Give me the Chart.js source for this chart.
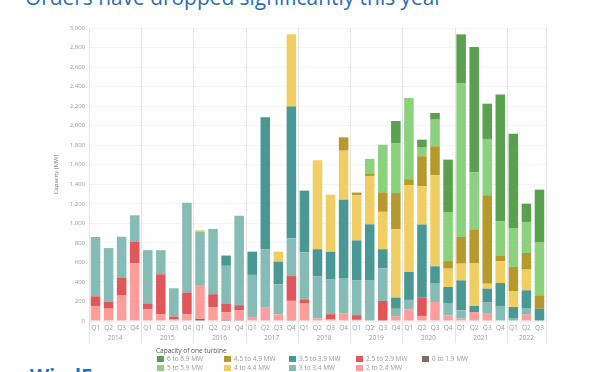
<!DOCTYPE html>
<html>
<head>
<meta charset="utf-8">
<script src="https://cdn.jsdelivr.net/npm/chart.js@4"></script>
<style>
html,body{margin:0;padding:0;background:#fff;}
body{width:600px;height:372px;overflow:hidden;position:relative;font-family:'Open Sans',sans-serif;}
#title{position:absolute;left:25px;top:-14px;font-size:22px;line-height:22px;color:#2a6db3;white-space:nowrap;font-family:'Open Sans',sans-serif;}
#logo{position:absolute;left:30px;top:366px;font-size:20px;line-height:20px;font-weight:700;color:#1f74c0;white-space:nowrap;font-family:'Open Sans',sans-serif;}
#chartBox{position:absolute;left:0;top:0;width:600px;height:372px;}
.lg-title{position:absolute;font-size:6.5px;color:#555;white-space:nowrap;line-height:8px;}
.lg-item{position:absolute;font-size:6.5px;color:#999;white-space:nowrap;line-height:8px;height:8px;}
.lg-sw{display:inline-block;width:7px;height:6px;vertical-align:top;margin-top:1px;margin-right:3px;}
</style>
</head>
<body>
<div id="title">Orders have dropped significantly this year</div>
<div id="chartBox"><canvas id="c" width="600" height="372"></canvas></div>
<div id="legend"></div>
<div id="logo">WindEurope</div>
<script>
// ---- data ----
const quarterLabels = ['Q1','Q2','Q3','Q4','Q1','Q2','Q3','Q4','Q1','Q2','Q3','Q4','Q1','Q2','Q3','Q4','Q1','Q2','Q3','Q4','Q1','Q2','Q3','Q4','Q1','Q2','Q3','Q4','Q1','Q2','Q3','Q4','Q1','Q2','Q3'];
const yearLabels = ['2014','2015','2016','2017','2018','2019','2020','2021','2022'];
const quartersPerYear = [4,4,4,4,4,4,4,4,3];
const yTicks = [0,200,400,600,800,1000,1200,1400,1600,1800,2000,2200,2400,2600,2800,3000];

const mw0to19  = [0,0,0,0, 0,0,0,0, 22,0,12,8, 0,0,0,8, 0,0,0,0, 0,0,0,0, 0,0,0,0, 0,0,0,0, 0,0,0];
const mw2to24  = [154,126,260,590, 120,70,15,68, 338,140,78,100, 40,136,68,198, 178,28,15,80, 12,0,0,50, 120,52,195,58, 24,92,82,0, 0,65,0];
const mw25to29 = [99,69,180,219, 60,408,30,224, 0,134,90,54, 0,0,0,254, 43,0,55,0, 48,0,205,0, 0,191,0,0, 0,0,0,0, 0,0,0];
const mw3to34  = [607,552,423,273, 545,247,290,920, 555,668,385,916, 432,599,307,386, 481,427,354,360, 359,420,335,75, 96,0,187,119, 85,0,106,154, 31,68,0];
const mw35to39 = [0,0,0,0, 0,0,0,0, 0,0,105,0, 238,1350,233,1349, 633,280,284,802, 406,570,195,115, 286,745,178,171, 307,62,143,235, 112,181,126];
const mw4to44  = [0,0,0,0, 0,0,0,0, 15,0,0,0, 0,0,102,740, 0,910,585,502, 463,495,383,701, 888,392,931,188, 171,440,51,222, 164,212,0];
const mw45to49 = [0,0,0,0, 0,0,0,0, 0,0,0,0, 0,0,0,0, 0,0,0,136, 27,27,200,369, 62,307,298,78, 273,345,905,61, 246,170,137];
const mw5to59  = [0,0,0,0, 0,0,0,0, 0,0,0,0, 0,0,0,0, 0,0,0,0, 0,148,487,512, 832,88,272,502, 1577,581,577,348, 399,318,546];
const mw6to69  = [0,0,0,0, 0,0,0,0, 0,0,0,0, 0,0,0,0, 0,0,0,0, 0,0,0,226, 0,82,69,536, 498,1286,361,1298, 966,187,536];

const seriesNames = ['0 to 1.9 MW','2 to 2.4 MW','2.5 to 2.9 MW','3 to 3.4 MW','3.5 to 3.9 MW','4 to 4.4 MW','4.5 to 4.9 MW','5 to 5.9 MW','6 to 6.9 MW'];
const seriesData = [mw0to19, mw2to24, mw25to29, mw3to34, mw35to39, mw4to44, mw45to49, mw5to59, mw6to69];
const seriesColors = ['#79706E','#FF9D9A','#E15759','#86BCB6','#499894','#F1CE63','#B6992D','#8CD17D','#59A14F'];

// fit title width
(function(){
  const t = document.getElementById('title');
  const w = t.getBoundingClientRect().width;
  const target = 418;
  t.style.fontSize = (22*target/w).toFixed(2)+'px';
})();

const FONT = "'Open Sans', sans-serif";

const yearPlugin = {
  id: 'yearDividers',
  beforeDatasetsDraw(chart){
    const xs = chart.scales.x, ca = chart.chartArea, ctx = chart.ctx;
    const half = (xs.getPixelForValue(1) - xs.getPixelForValue(0))/2;
    ctx.save();
    ctx.strokeStyle = '#e4e4e4';
    ctx.lineWidth = 1;
    let idx = 0;
    const bounds = [];
    for (let i=0;i<quartersPerYear.length;i++){ bounds.push(idx); idx += quartersPerYear[i]; }
    bounds.push(idx);
    bounds.forEach(b=>{
      const x = Math.round(xs.getPixelForValue(b) - half) + 0.5;
      ctx.beginPath(); ctx.moveTo(x, ca.top); ctx.lineTo(x, ca.bottom + 22); ctx.stroke();
    });
    ctx.restore();
  },
  afterDraw(chart){
    const xs = chart.scales.x, ca = chart.chartArea, ctx = chart.ctx;
    ctx.save();
    ctx.fillStyle = '#999';
    ctx.font = "6.5px " + FONT;
    ctx.textAlign = 'center';
    ctx.textBaseline = 'middle';
    let idx = 0;
    yearLabels.forEach((y,i)=>{
      const n = quartersPerYear[i];
      const x = (xs.getPixelForValue(idx) + xs.getPixelForValue(idx+n-1))/2;
      ctx.fillText(y, x, ca.bottom + 17);
      idx += n;
    });
    ctx.restore();
  }
};

const chart = new Chart(document.getElementById('c'), {
  type: 'bar',
  data: {
    labels: quarterLabels,
    datasets: seriesNames.map((n,i)=>({
      label: n,
      data: seriesData[i],
      backgroundColor: seriesColors[i],
      borderWidth: 0,
      barPercentage: 0.73,
      categoryPercentage: 1.0
    }))
  },
  options: {
    responsive: false,
    animation: false,
    devicePixelRatio: 1,
    layout: { padding: { left: 53, right: 54, top: 28, bottom: 0 } },
    plugins: { legend: { display: false }, tooltip: { enabled: false } },
    scales: {
      x: {
        stacked: true,
        grid: { display: false, drawTicks: false },
        border: { display: false },
        ticks: { autoSkip: false, maxRotation: 0, minRotation: 0, padding: 3, color: '#999', font: { size: 6.5, family: FONT } },
        afterFit(s){ s.height = 51; }
      },
      y: {
        stacked: true,
        min: 0, max: 3000,
        afterBuildTicks(s){ s.ticks = yTicks.map(v=>({value:v})); },
        grid: { color: '#f4f4f4', drawTicks: false },
        border: { display: false },
        ticks: { padding: 4, color: '#999', font: { size: 6, family: FONT }, callback: v => v.toLocaleString('en-US') },
        title: { display: true, text: 'Capacity (MW)', color: '#777', font: { size: 6, family: FONT }, padding: { top: 0, bottom: 0 } },
        afterFit(s){ s.width = 36; }
      }
    }
  },
  plugins: [yearPlugin]
});

// legend
(function(){
  const lg = document.getElementById('legend');
  const t = document.createElement('div');
  t.className = 'lg-title'; t.textContent = 'Capacity of one turbine';
  t.style.left = '156px'; t.style.top = '347px';
  lg.appendChild(t);
  const cols = [[8,7],[6,5],[4,3],[2,1],[0]];
  const colX = [157, 224, 289, 356, 422];
  const rowY = [355, 364];
  cols.forEach((col,ci)=>{
    col.forEach((si,ri)=>{
      const d = document.createElement('div');
      d.className = 'lg-item';
      d.style.left = colX[ci]+'px'; d.style.top = rowY[ri]+'px';
      const sw = document.createElement('span');
      sw.className = 'lg-sw'; sw.style.background = seriesColors[si];
      d.appendChild(sw);
      d.appendChild(document.createTextNode(seriesNames[si]));
      lg.appendChild(d);
    });
  });
})();
</script>
</body>
</html>
